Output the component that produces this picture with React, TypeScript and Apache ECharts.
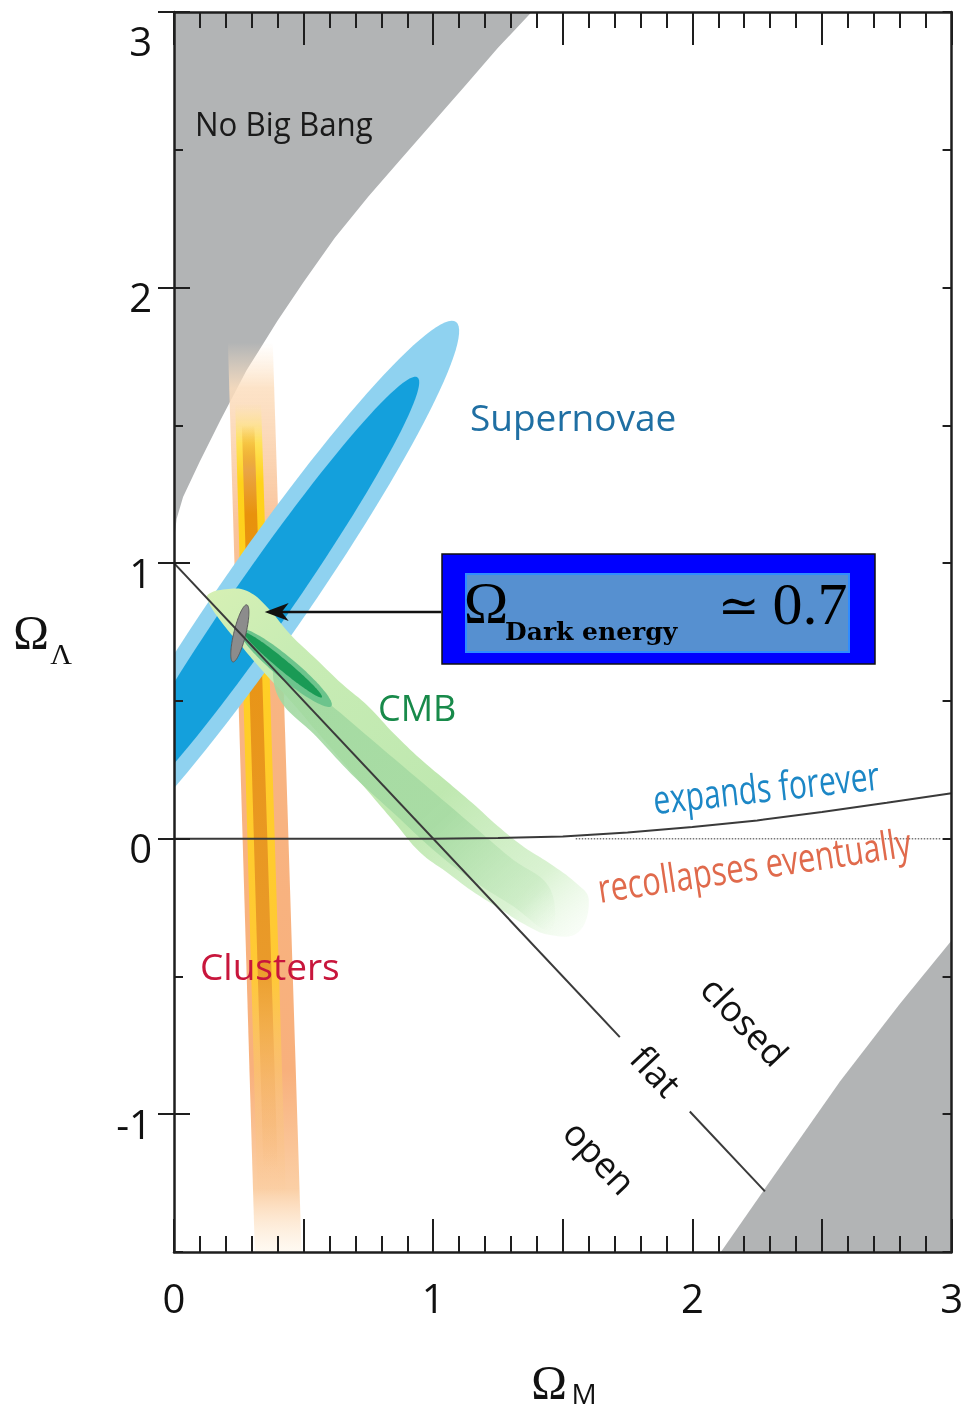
import React, { useEffect, useRef } from 'react';
import * as echarts from 'echarts';

type P = [number, number];

// ---------- axis ticks ----------
const xTickLabels = [0, 1, 2, 3];
const yTickLabels = [-1, 0, 1, 2, 3];

// ---------- excluded regions ----------
const noBigBangEdge: P[] = [
  [0, 1.08], [0.01, 1.16], [0.035, 1.24], [0.1, 1.37], [0.18, 1.52], [0.28, 1.7],
  [0.4, 1.88], [0.5, 2.02], [0.62, 2.18], [0.75, 2.33], [0.87, 2.46], [1.0, 2.6],
  [1.13, 2.74], [1.25, 2.87], [1.38, 3.0],
];
const noBigBangCorner: P[] = [[0, 3]];
const bounceEdge: P[] = [[2.11, -1.5], [2.28, -1.27], [2.57, -0.88], [2.8, -0.6], [3, -0.37]];
const bounceCorner: P[] = [[3, -1.5]];

// ---------- lines ----------
const expansionBoundary: P[] = [
  [0, 0], [1, 0], [1.25, 0.002], [1.5, 0.008], [1.75, 0.022], [2, 0.042],
  [2.25, 0.066], [2.5, 0.097], [2.75, 0.13], [3, 0.165],
];
const zeroDotted: P[] = [[1.55, 0], [2.96, 0]];
const flatUpper: P[] = [[0, 1], [1.72, -0.72]];
const flatLower: P[] = [[1.99, -0.99], [2.28, -1.28]];

// ---------- clusters band ----------
const clustersOuter: P[] = [[0.208, 1.8], [0.381, 1.8], [0.492, -1.5], [0.312, -1.5]];
const clustersYellow: P[] = [[0.236, 1.58], [0.336, 1.58], [0.432, -1.3], [0.322, -1.3]];
const clustersCore: P[] = [[0.262, 1.5], [0.31, 1.5], [0.4, -1.2], [0.345, -1.2]];

// ---------- ellipses: [centre x, centre y, semi-major, semi-minor, angle deg] ----------
const snOuter = [0.345, 0.87, 1.25, 0.165, 53.5];
const snInner = [0.345, 0.87, 1.0, 0.108, 53.5];
const cmbHalo = [0.43, 0.62, 0.225, 0.04, -38];
const cmbCore = [0.421, 0.63, 0.19, 0.02, -38];
const combinedFit = [0.254, 0.745, 0.107, 0.023, 75.4];

// ---------- CMB band outlines ----------
const cmbOuterUpper: P[] = [
  [0.13, 0.885], [0.2, 0.905], [0.28, 0.9], [0.36, 0.84], [0.45, 0.74], [0.55, 0.65],
  [0.65, 0.56], [0.75, 0.48], [0.85, 0.38], [0.95, 0.29], [1.05, 0.21], [1.15, 0.13],
  [1.25, 0.045], [1.35, -0.03], [1.45, -0.09], [1.55, -0.16], [1.6, -0.22],
];
const cmbOuterLower: P[] = [
  [1.56, -0.34], [1.45, -0.35], [1.35, -0.31], [1.25, -0.25], [1.15, -0.19], [1.05, -0.12],
  [0.95, -0.05], [0.85, 0.06], [0.75, 0.17], [0.65, 0.28], [0.55, 0.39], [0.45, 0.5],
  [0.35, 0.6], [0.25, 0.71], [0.18, 0.79], [0.135, 0.855],
];
const cmbMidUpper: P[] = [
  [0.4, 0.66], [0.55, 0.53], [0.7, 0.41], [0.85, 0.29], [1.0, 0.17], [1.15, 0.05], [1.3, -0.07], [1.45, -0.18],
];
const cmbMidLower: P[] = [
  [1.45, -0.33], [1.3, -0.24], [1.15, -0.15], [1.0, -0.04], [0.85, 0.09], [0.7, 0.22], [0.55, 0.37], [0.4, 0.52],
];

// ---------- annotation arrow ----------
const arrowFrom: P = [1.031, 0.823];
const arrowTo: P = [0.35, 0.823];

function ellipse(e: number[], n = 120): P[] {
  const [cx, cy, a, b, deg] = e;
  const t = (deg * Math.PI) / 180;
  const pts: P[] = [];
  for (let i = 0; i < n; i++) {
    const u = (2 * Math.PI * i) / n;
    const ex = a * Math.cos(u);
    const ey = b * Math.sin(u);
    pts.push([cx + ex * Math.cos(t) - ey * Math.sin(t), cy + ex * Math.sin(t) + ey * Math.cos(t)]);
  }
  return pts;
}

function grad(x2: number, y2: number, stops: [number, string][]) {
  return new echarts.graphic.LinearGradient(0, 0, x2, y2, stops.map(([offset, color]) => ({ offset, color })));
}

function areaSeries(name: string, pts: P[], style: any, smooth = 0) {
  return {
    name,
    type: 'custom',
    coordinateSystem: 'cartesian2d',
    xAxisIndex: 0,
    yAxisIndex: 0,
    clip: true,
    silent: true,
    data: [pts[0]],
    renderItem: (_p: any, api: any) => ({
      type: 'polygon',
      shape: { points: pts.map((p) => api.coord(p)), smooth },
      style,
    }),
  };
}

function lineSeries(name: string, pts: P[], lineStyle: any) {
  return {
    name,
    type: 'line',
    xAxisIndex: 0,
    yAxisIndex: 0,
    data: pts,
    showSymbol: false,
    symbol: 'none',
    silent: true,
    lineStyle,
  };
}

const AX = '#1e1e1e';
const isInt = (v: number) => Math.abs(v - Math.round(v)) < 1e-6;

function xAxisCfg(position: 'top' | 'bottom', labels: boolean) {
  return {
    type: 'value',
    min: 0,
    max: 3,
    interval: 0.5,
    position,
    z: 10,
    axisLine: { show: true, onZero: false, lineStyle: { color: AX, width: 2.5 } },
    axisTick: { show: true, inside: true, length: 33, lineStyle: { color: AX, width: 2 } },
    minorTick: { show: true, splitNumber: 5, length: 16, lineStyle: { color: AX, width: 2 } },
    splitLine: { show: false },
    minorSplitLine: { show: false },
    axisLabel: {
      show: labels,
      margin: 25,
      fontSize: 40,
      fontFamily: 'Open Sans',
      color: '#111',
      formatter: (v: number) => (isInt(v) && xTickLabels.includes(Math.round(v)) ? String(Math.round(v)) : ''),
    },
  };
}

function yAxisCfg(position: 'left' | 'right', labels: boolean) {
  return [
    {
      type: 'value',
      min: -1.5,
      max: 3,
      interval: 0.5,
      position,
      z: 10,
      axisLine: { show: true, onZero: false, lineStyle: { color: AX, width: 2.5 } },
      axisTick: { show: true, inside: true, length: 9, lineStyle: { color: AX, width: 2 } },
      splitLine: { show: false },
      axisLabel: {
        show: labels,
        margin: 22,
        color: '#111',
        fontSize: 40,
        fontFamily: 'Open Sans',
        formatter: (v: number) => {
          if (!isInt(v)) return '';
          const r = Math.round(v);
          if (!yTickLabels.includes(r)) return '';
          return r === 3 ? '{t|3}' : '{n|' + r + '}';
        },
        rich: {
          n: { fontSize: 40, fontFamily: 'Open Sans', color: '#111', padding: [18, 0, 0, 0] },
          t: { fontSize: 40, fontFamily: 'Open Sans', color: '#111', padding: [56, 0, 0, 0] },
        },
      },
    },
    {
      type: 'value',
      min: -1.5,
      max: 3,
      interval: 0.5,
      position,
      z: 10,
      axisLine: { show: false },
      axisTick: { show: true, inside: true, length: 16, customValues: yTickLabels, lineStyle: { color: AX, width: 2 } },
      axisLabel: { show: false },
      splitLine: { show: false },
    },
  ];
}

const sansLabel = (text: string, x: number, y: number, size: number, fill: string, extra: any = {}) => ({
  type: 'text',
  x,
  y,
  z: 100,
  silent: true,
  ...extra,
  style: {
    text,
    fill,
    font: `${size}px "Open Sans"`,
    align: extra.align || 'left',
    verticalAlign: 'middle',
  },
});

export default function App() {
  const ref = useRef<HTMLDivElement>(null);

  useEffect(() => {
    if (!ref.current) return;
    const chart = echarts.init(ref.current, undefined, { renderer: 'svg' });
    const rot = (-46.7 * Math.PI) / 180;

    const option: any = {
      animation: false,
      grid: { left: 174, top: 12, width: 780, height: 1240, containLabel: false },
      xAxis: [xAxisCfg('bottom', true), xAxisCfg('top', false)],
      yAxis: [...yAxisCfg('left', true), ...yAxisCfg('right', false)],
      series: [
        areaSeries('No Big Bang', [...noBigBangEdge, ...noBigBangCorner], { fill: '#b2b4b5' }),
        areaSeries('Bounce region', [...bounceEdge, ...bounceCorner], { fill: '#b2b4b5' }),
        areaSeries('Clusters outer', clustersOuter, {
          fill: grad(0, 1, [
            [0, 'rgba(253,228,200,0)'],
            [0.05, 'rgba(252,222,190,0.85)'],
            [0.2, '#f9c49c'],
            [0.35, '#f8b583'],
            [0.8, '#f8b07c'],
            [0.93, '#fbcfa5'],
            [1, 'rgba(255,245,230,0.5)'],
          ]),
        }),
        areaSeries('Clusters yellow', clustersYellow, {
          fill: grad(0, 1, [
            [0, 'rgba(255,235,150,0)'],
            [0.05, '#ffe25a'],
            [0.1, '#ffd21a'],
            [0.72, '#ffc935'],
            [0.88, 'rgba(250,200,120,0.45)'],
            [1, 'rgba(250,190,120,0)'],
          ]),
        }),
        areaSeries('Clusters core', clustersCore, {
          fill: grad(0, 1, [
            [0, 'rgba(232,146,12,0)'],
            [0.06, '#eaa546'],
            [0.12, '#e8920c'],
            [0.72, '#e99a2a'],
            [0.88, 'rgba(240,170,90,0.4)'],
            [1, 'rgba(240,170,90,0)'],
          ]),
        }),
        areaSeries('Supernovae outer', ellipse(snOuter), { fill: '#8fd2f0' }),
        areaSeries('Supernovae inner', ellipse(snInner), { fill: '#14a0dc' }),
        areaSeries('CMB outer', [...cmbOuterUpper, ...cmbOuterLower], {
          fill: grad(1, 1, [
            [0, '#d6f0b4'],
            [0.2, '#c8ecb4'],
            [0.6, '#bfe8b0'],
            [0.85, 'rgba(205,238,195,0.75)'],
            [1, 'rgba(235,250,230,0.2)'],
          ]),
        }, 0.4),
        areaSeries('CMB mid', [...cmbMidUpper, ...cmbMidLower], {
          fill: grad(1, 1, [
            [0, 'rgba(160,216,160,0.9)'],
            [0.6, 'rgba(165,218,162,0.85)'],
            [0.9, 'rgba(190,230,185,0.4)'],
            [1, 'rgba(220,245,215,0)'],
          ]),
        }, 0.4),
        areaSeries('CMB halo', ellipse(cmbHalo), { fill: '#6cc48c' }),
        areaSeries('CMB core', ellipse(cmbCore), { fill: '#1a9a55' }),
        lineSeries('Flat', flatUpper, { color: '#3a3a3a', width: 2 }),
        lineSeries('Flat lower', flatLower, { color: '#3a3a3a', width: 2 }),
        lineSeries('Expansion boundary', expansionBoundary, { color: '#3a3a3a', width: 2 }),
        lineSeries('Zero dotted', zeroDotted, { color: '#777', width: 1.5, type: 'dotted' }),
        areaSeries('Combined', ellipse(combinedFit), { fill: '#8c8c8c', stroke: '#5a5a5a', lineWidth: 1 }),
        {
          name: 'Arrow',
          type: 'custom',
          coordinateSystem: 'cartesian2d',
          silent: true,
          data: [arrowFrom],
          renderItem: (_p: any, api: any) => {
            const a = api.coord(arrowFrom);
            const b = api.coord(arrowTo);
            return {
              type: 'group',
              children: [
                { type: 'line', shape: { x1: a[0], y1: a[1], x2: b[0] + 16, y2: b[1] }, style: { stroke: '#111', lineWidth: 2.5 } },
                {
                  type: 'polygon',
                  shape: { points: [[b[0], b[1]], [b[0] + 24, b[1] - 9], [b[0] + 17, b[1]], [b[0] + 24, b[1] + 9]] },
                  style: { fill: '#111' },
                },
              ],
            };
          },
        },
      ],
      graphic: [
        sansLabel('No Big Bang', 195, 123, 33, '#1a1a1a', { scaleX: 0.95 }),
        sansLabel('Supernovae', 470, 416, 37, '#1f6fa3'),
        sansLabel('CMB', 378, 707, 36, '#188a4a'),
        sansLabel('Clusters', 200, 965, 37, '#c8163c'),
        sansLabel('expands forever', 766, 786, 40, '#1c87c6', { rotation: 0.11, scaleX: 0.75, align: 'center' }),
        sansLabel('recollapses eventually', 754, 864, 40, '#e06a4c', { rotation: 0.148, scaleX: 0.77, align: 'center' }),
        sansLabel('closed', 745, 1021, 36, '#111', { rotation: rot, align: 'center' }),
        sansLabel('flat', 656, 1071, 36, '#111', { rotation: rot, align: 'center' }),
        sansLabel('open', 600, 1157, 36, '#111', { rotation: rot, align: 'center' }),
        // axis titles
        { type: 'text', x: 31, y: 632, z: 100, style: { text: 'Ω', font: '48px "Liberation Serif"', fill: '#111', align: 'center', verticalAlign: 'middle' } },
        { type: 'text', x: 61, y: 653, z: 100, style: { text: 'Λ', font: '30px "Liberation Serif"', fill: '#111', align: 'center', verticalAlign: 'middle' } },
        { type: 'text', x: 549, y: 1382, z: 100, style: { text: 'Ω', font: '48px "Liberation Serif"', fill: '#111', align: 'center', verticalAlign: 'middle' } },
        { type: 'text', x: 584, y: 1393, z: 100, style: { text: 'M', font: '28px "Open Sans"', fill: '#111', align: 'center', verticalAlign: 'middle' } },
        // annotation box
        { type: 'rect', z: 100, shape: { x: 442, y: 554, width: 433, height: 110 }, style: { fill: '#0000ff', stroke: '#111', lineWidth: 1.5 } },
        { type: 'rect', z: 101, shape: { x: 466, y: 574, width: 383, height: 78 }, style: { fill: '#5690d0', stroke: '#2f8cff', lineWidth: 2 } },
        { type: 'text', x: 486, y: 603, z: 102, style: { text: 'Ω', font: '60px "Liberation Serif"', fill: '#000', align: 'center', verticalAlign: 'middle' } },
        { type: 'text', x: 505, y: 631, z: 102, style: { text: 'Dark energy', font: 'bold 25px "DejaVu Serif"', fill: '#000', align: 'left', verticalAlign: 'middle' } },
        { type: 'text', x: 739, y: 606, z: 102, style: { text: '≃', font: '50px "DejaVu Serif"', fill: '#000', align: 'center', verticalAlign: 'middle' } },
        { type: 'text', x: 810, y: 604, z: 102, style: { text: '0.7', font: '60px "Liberation Serif"', fill: '#000', align: 'center', verticalAlign: 'middle' } },
      ],
    };
    chart.setOption(option);
    return () => chart.dispose();
  }, []);

  return <div ref={ref} style={{ position: 'fixed', left: 0, top: 0, width: 966, height: 1414 }} />;
}
